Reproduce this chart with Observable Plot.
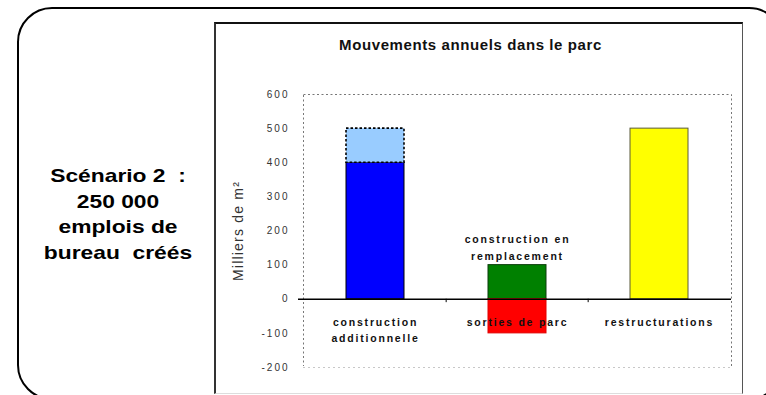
<!DOCTYPE html>
<html>
<head>
<meta charset="utf-8">
<script src="https://cdn.jsdelivr.net/npm/d3@7"></script>
<script src="https://cdn.jsdelivr.net/npm/@observablehq/plot@0.6"></script>
<style>
  html, body { margin: 0; padding: 0; background: #fff; }
  body { width: 766px; height: 395px; overflow: hidden; position: relative;
         font-family: "Liberation Sans", Arial, sans-serif; }
  #outer { position: absolute; left: 17px; top: 7px; width: 767px; height: 393px;
           box-sizing: border-box; border: 2px solid #000; border-radius: 35px; }
  #scenario { position: absolute; left: 18px; width: 200px; top: 163px; text-align: center;
              font-weight: bold; font-size: 19px; line-height: 25.7px; white-space: pre;
              transform: scaleX(1.2); color: #000; }
  #panel { position: absolute; left: 214px; top: 22px; width: 529px; height: 372px;
           box-sizing: border-box; background: #fff;
           border-left: 2px solid #333; border-top: 2px solid #111;
           border-right: 1.5px solid #555; border-bottom: 1px solid #ddd; }
  #title { position: absolute; left: 208px; width: 525px; top: 36px; text-align: center;
           font-weight: bold; font-size: 15px; letter-spacing: 0.6px; color: #111; }
  #chart { position: absolute; left: 216px; top: 24px; }
  #chart g[aria-label="y-axis tick label"] text { letter-spacing: 2px; }
  #chart g[aria-label="y-axis label"] text { letter-spacing: 1.2px; font-size: 14px; }
  #chart g[aria-label="text"] text { letter-spacing: 1.8px; }
</style>
</head>
<body>
<div id="outer"></div>
<div id="scenario">Scénario 2  :
250 000
emplois de
bureau  créés</div>
<div id="panel"></div>
<div id="title">Mouvements annuels dans le parc</div>
<div id="chart"></div>
<script>
// Categories along the horizontal axis
const categories = ["construction additionnelle", "sorties de parc", "restructurations"];
const categoryLabels = ["construction\nadditionnelle", "sorties de parc", "restructurations"];

// Bar segments (thousands of m² per year), stacked within their category
const segmentSeries = [
  "construction additionnelle",
  "construction additionnelle (haut)",
  "construction en remplacement",
  "sorties de parc",
  "restructurations"
];
const segmentCategory = [
  "construction additionnelle",
  "construction additionnelle",
  "sorties de parc",
  "sorties de parc",
  "restructurations"
];
const segmentValues = [400, 100, 100, -100, 500];

// Value axis ticks
const yTicks = [-200, -100, 0, 100, 200, 300, 400, 500, 600];
const yTitle = "Milliers de m²";
const remplacementLabel = "construction en\nremplacement";

const rows = segmentValues.map((v, i) => ({series: segmentSeries[i], cat: segmentCategory[i], value: v}));

const fills = {
  "construction additionnelle": "#0000ff",
  "construction additionnelle (haut)": "#99ccff",
  "construction en remplacement": "#008000",
  "sorties de parc": "#ff0000",
  "restructurations": "#ffff00"
};
const edges = {
  "construction additionnelle": "#000",
  "construction additionnelle (haut)": "none",
  "construction en remplacement": "#0b3d0b",
  "sorties de parc": "#e00000",
  "restructurations": "#5a5a3a"
};
const dottedSeries = "construction additionnelle (haut)";

const width = 525, height = 370;
const marginLeft = 87, marginRight = 10, marginTop = 70, marginBottom = 27;
const step = (width - marginLeft - marginRight) / categories.length;

const chart = Plot.plot({
  width, height, marginLeft, marginRight, marginTop, marginBottom,
  style: {fontFamily: "'Liberation Sans', Arial, sans-serif", fontSize: "10px", color: "#111", background: "transparent"},
  x: {domain: categories, paddingInner: 0.59, paddingOuter: 0.295, axis: null},
  y: {domain: [-200, 600]},
  color: {type: "identity"},
  marks: [
    // dotted plot-area border, lighter along the bottom
    Plot.frame({stroke: "#777", strokeDasharray: "2,2.5"}),
    Plot.ruleY([-200], {stroke: "#fff", strokeWidth: 3}),
    Plot.ruleY([-200], {stroke: "#c8c8c8", strokeDasharray: "2,3"}),
    // stacked bars
    Plot.barY(rows, {x: "cat", y: "value", fill: d => fills[d.series], stroke: d => edges[d.series]}),
    // dotted outline on the upper part of the first bar
    Plot.barY(rows, {x: "cat", y: "value", fill: "none",
      stroke: d => d.series === dottedSeries ? "#000" : "none",
      strokeWidth: 1.6, strokeDasharray: "2.5,2"}),
    // zero line with category separators
    Plot.ruleY([0], {stroke: "#000", strokeWidth: 1.5, insetLeft: -5}),
    Plot.ruleX(categories.slice(1), {x: d => d, y1: 0, y2: -10, dx: -step / 2, stroke: "#000"}),
    Plot.axisY({ticks: yTicks, tickSize: 0, tickPadding: 14, tickFormat: d => String(d),
      label: yTitle, labelAnchor: "center", labelOffset: 70, labelArrow: "none", fill: "#333"}),
    Plot.text(categories, {x: d => d, y: 0, text: (d, i) => categoryLabels[i],
      dy: 15, lineAnchor: "top", lineHeight: 1.55, fontWeight: "bold", fontSize: 10.5,
      fill: "#111"}),
    Plot.text([remplacementLabel], {x: () => segmentCategory[2], y: () => segmentValues[2],
      text: d => d, dy: -5, lineAnchor: "bottom", lineHeight: 1.6, fontWeight: "bold",
      fontSize: 10.5, fill: "#111"})
  ]
});
document.getElementById("chart").appendChild(chart);
</script>
</body>
</html>
